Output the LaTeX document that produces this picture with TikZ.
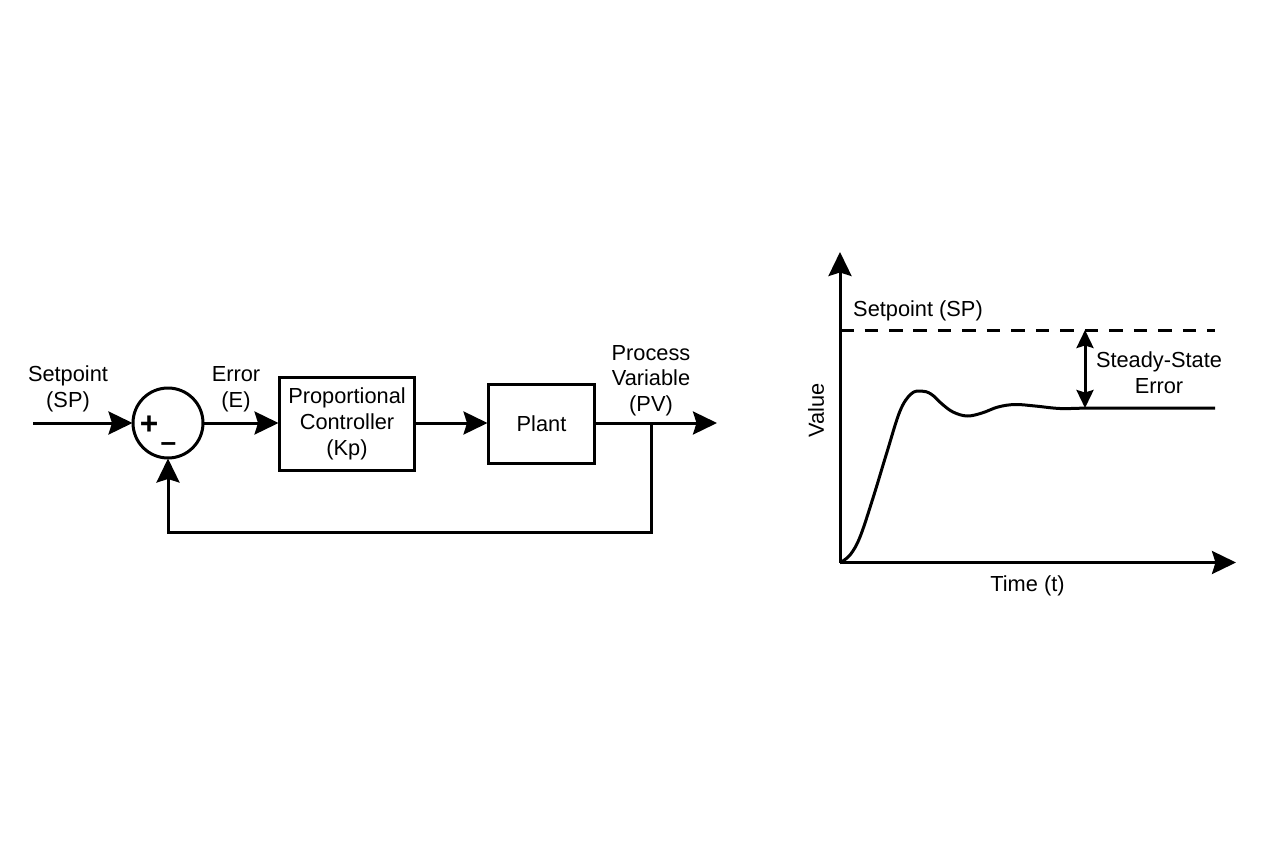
\documentclass[tikz,border=0pt]{standalone}
\usepackage{fontspec}
\setmainfont{Liberation Sans}
\usetikzlibrary{arrows.meta,positioning}
\tikzset{
	lbl/.style={align=center,font=\fontsize{12.4}{14.6}\selectfont,inner sep=0pt},
	block/.style={draw,line width=.06cm,lbl,minimum height=1.88cm},
	sumjunc/.style={draw,circle,line width=.06cm,minimum size=1.4cm,inner sep=0pt},
	wire/.style={line width=.06cm},
	flow/.style={wire,-{Stealth[length=.48cm,width=.46cm,inset=.07cm]},shorten >=-.02cm},
	axisline/.style={wire,-{Stealth[length=.48cm,width=.46cm,inset=.07cm]}},
	gap/.style={wire,{Stealth[length=.36cm,width=.34cm,inset=.05cm]}-{Stealth[length=.36cm,width=.34cm,inset=.05cm]}}
}
\begin{document}
\begin{tikzpicture}[x=.02cm,y=-.02cm]
	\useasboundingbox (0,0) rectangle (1264,848);
	% block diagram
	\node[sumjunc] (sum) at (168,423) {};
	\node[block,minimum width=2.72cm] (ctrl) at (347,424) {Proportional\\Controller\\(Kp)};
	\node[block,minimum width=2.14cm,minimum height=1.6cm] (plant) at (541.5,424) {Plant};
	\coordinate (in) at (33,423);
	\coordinate (out) at (716,423);
	\coordinate (tap) at (651,423);
	\coordinate (back) at (651,532);
	\node[lbl] (plus) at (149,425) {\fontsize{18}{18}\selectfont\textbf{+}};
	\node[lbl] (minus) at (168.5,447.5) {\fontsize{16}{16}\selectfont\textbf{\char"2013}};
	\draw[flow] (in)--(sum);
	\draw[flow] (sum)--(ctrl.west|-sum);
	\draw[flow] (ctrl.east|-sum)--(plant.west|-sum);
	\draw[flow] (plant.east|-sum)--(out);
	\draw[flow] (tap)--(back)-|(sum);
	\node[lbl] (sp) at (68,389) {Setpoint\\(SP)};
	\node[lbl] (err) at (236,389) {Error\\(E)};
	\node[lbl] (pv) at (651,380.5) {Process\\Variable\\(PV)};
	% response plot
	\coordinate (orig) at (840,562.5);
	\coordinate (ytop) at (840,252);
	\coordinate (xend) at (1236,562.5);
	\coordinate (spl) at (840,330);
	\coordinate (spr) at (1215,330);
	\coordinate (gaptop) at (1085,330);
	\coordinate (gapbot) at (1085,408);
	\draw[axisline] (orig)--(ytop);
	\draw[axisline] (orig)--(xend);
	\draw[wire,dash pattern=on .27cm off .22cm] (spl)--(spr);
	\draw[wire,line join=round] plot[smooth,tension=.6] coordinates {(840,562.7) (850,555) (860,537) (873,498) (887,452) (900,411) (911,394) (921,391) (931,394) (942,404) (953,412) (967,416) (982,413) (998,407) (1015,404.5) (1035,406) (1060,408.5) (1085,408)} -- (1215,408);
	\draw[gap] (gaptop)--(gapbot);
	\node[lbl] (splbl) at (918,310.5) {Setpoint (SP)};
	\node[lbl] (sse) at (1159,372.5) {Steady-State\\Error};
	\node[lbl,rotate=90] (val) at (816,410) {Value};
	\node[lbl] (time) at (1027.5,585.5) {Time (t)};
\end{tikzpicture}
\end{document}
